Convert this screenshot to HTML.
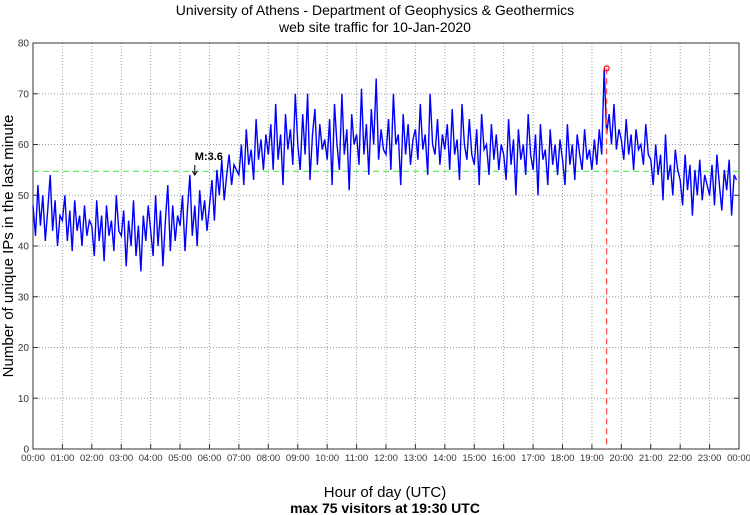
<!DOCTYPE html>
<html><head><meta charset="utf-8"><style>
body{margin:0;background:#fff}
svg{display:block;font-family:"Liberation Sans",sans-serif}
</style></head><body>
<svg id="c" width="750" height="515" viewBox="0 0 750 515">
<text x="375" y="15" font-size="14" text-anchor="middle">University of Athens - Department of Geophysics &amp; Geothermics</text>
<text x="375" y="32" font-size="14" text-anchor="middle">web site traffic for 10-Jan-2020</text>
<text x="385" y="497" font-size="15" text-anchor="middle">Hour of day (UTC)</text>
<text x="385" y="513" font-size="14" font-weight="bold" text-anchor="middle">max 75 visitors at 19:30 UTC</text>
<text transform="translate(13,246) rotate(-90)" font-size="15" text-anchor="middle">Number of unique IPs in the last minute</text>
<g id="grid"></g><g id="series"></g><g id="overlay"></g>
</svg>
<script>
const hourLabels=["00:00","01:00","02:00","03:00","04:00","05:00","06:00","07:00","08:00","09:00","10:00","11:00","12:00","13:00","14:00","15:00","16:00","17:00","18:00","19:00","20:00","21:00","22:00","23:00","00:00"];
const yTicks=[0,10,20,30,40,50,60,70,80];
const visitors=[
48,42,52,44,50,41,47,54,43,49,40,46,
45,50,41,47,39,49,43,46,40,48,42,45,
44,38,49,41,46,37,48,42,45,39,50,43,
42,47,36,45,40,49,38,44,35,46,41,48,
43,38,50,40,47,36,45,52,39,48,41,46,
44,50,39,47,54,42,48,40,51,45,49,43,
48,53,45,55,50,57,49,54,58,52,56,55,
54,60,52,63,56,59,53,65,57,61,55,62,
58,64,55,68,57,62,52,66,59,63,56,70,
60,55,66,58,70,53,62,67,56,64,59,61,
57,65,52,68,60,55,70,58,63,51,66,60,
62,56,71,58,64,54,67,60,73,57,63,59,
58,65,55,70,60,62,52,66,58,64,56,61,
63,57,68,59,62,54,70,60,58,65,56,62,
59,64,55,67,58,61,53,68,60,57,65,58,
56,63,52,66,59,60,54,64,57,62,55,60,
58,53,65,56,61,50,63,57,60,54,66,58,
55,62,50,64,57,59,52,63,56,60,54,61,
57,52,64,56,60,53,62,58,55,63,57,59,
55,61,56,63,58,75,62,66,60,68,59,63,
61,57,65,58,62,55,63,59,60,56,64,58,
57,52,60,54,58,49,62,53,56,50,59,55,
53,48,58,51,56,46,55,50,57,49,54,52,
50,56,48,58,52,47,55,51,57,46,54,53];
const meanLevel=[54.7];
const maxPoint=[19.5,75];
const quake=[5.5,"M:3.6"];
const L=33,R=739,T=43,B=449;
const xs=h=>L+(R-L)*h/24, ys=v=>B-(B-T)*v/80;
const NS="http://www.w3.org/2000/svg";
function mk(tag,attrs,parent){const e=document.createElementNS(NS,tag);for(const k in attrs)e.setAttribute(k,attrs[k]);parent.appendChild(e);return e;}
const grid=document.getElementById('grid'),series=document.getElementById('series'),ov=document.getElementById('overlay');
yTicks.forEach(v=>{
  const y=ys(v);
  if(v>0&&v<80){const g=mk('line',{x1:L,x2:R,y1:y,y2:y,stroke:'#999','stroke-dasharray':'1,2','stroke-width':1},grid);
  
  }
  const t=mk('text',{x:L-4,y:y+3.5,'font-size':10,'text-anchor':'end',fill:'#333'},grid);t.textContent=v;
  
  
  mk('line',{x1:L,x2:L+5,y1:y,y2:y,stroke:'#333'},grid);mk('line',{x1:R-5,x2:R,y1:y,y2:y,stroke:'#333'},grid);
});
hourLabels.forEach((s,i)=>{
  const x=xs(i);
  if(i>0&&i<24){const g=mk('line',{x1:x,x2:x,y1:T,y2:B,stroke:'#999','stroke-dasharray':'1,2','stroke-width':1},grid);
  
  }
  mk('line',{x1:x,x2:x,y1:B-5,y2:B,stroke:'#333'},grid);
  const t=mk('text',{x:x,y:B+12,'font-size':9.5,'text-anchor':'middle',fill:'#333'},grid);t.textContent=s;
  
  
});
const fr=mk('rect',{x:L,y:T,width:R-L,height:B-T,fill:'none',stroke:'#333','stroke-width':1},grid);


const gl=mk('line',{x1:L,x2:R,y1:ys(meanLevel[0]),y2:ys(meanLevel[0]),stroke:'#66ee66','stroke-width':1.3,'stroke-dasharray':'6,4'},series);


const pts=visitors.map((v,i)=>xs(i*24/visitors.length).toFixed(1)+','+ys(v).toFixed(1)).join(' ');
const pl=mk('polyline',{points:pts,fill:'none',stroke:'#0000ff','stroke-width':1.4},series);


const rl=mk('line',{x1:xs(maxPoint[0]),x2:xs(maxPoint[0]),y1:ys(maxPoint[1]),y2:B,stroke:'#ff5555','stroke-width':1.3,'stroke-dasharray':'6,4'},ov);


const mc=mk('circle',{cx:xs(maxPoint[0]),cy:ys(maxPoint[1]),r:2.5,fill:'none',stroke:'#ff0000','stroke-width':1.2},ov);


const qx=xs(quake[0]);
const ql=mk('text',{x:qx,y:160,'font-size':11,'font-weight':'bold'},ov);ql.textContent=quake[1];


const qa=mk('path',{d:`M${qx},165 L${qx},175 M${qx-2.5},171 L${qx},175 L${qx+2.5},171`,stroke:'#000',fill:'none','stroke-width':1},ov);


</script>
</body></html>
